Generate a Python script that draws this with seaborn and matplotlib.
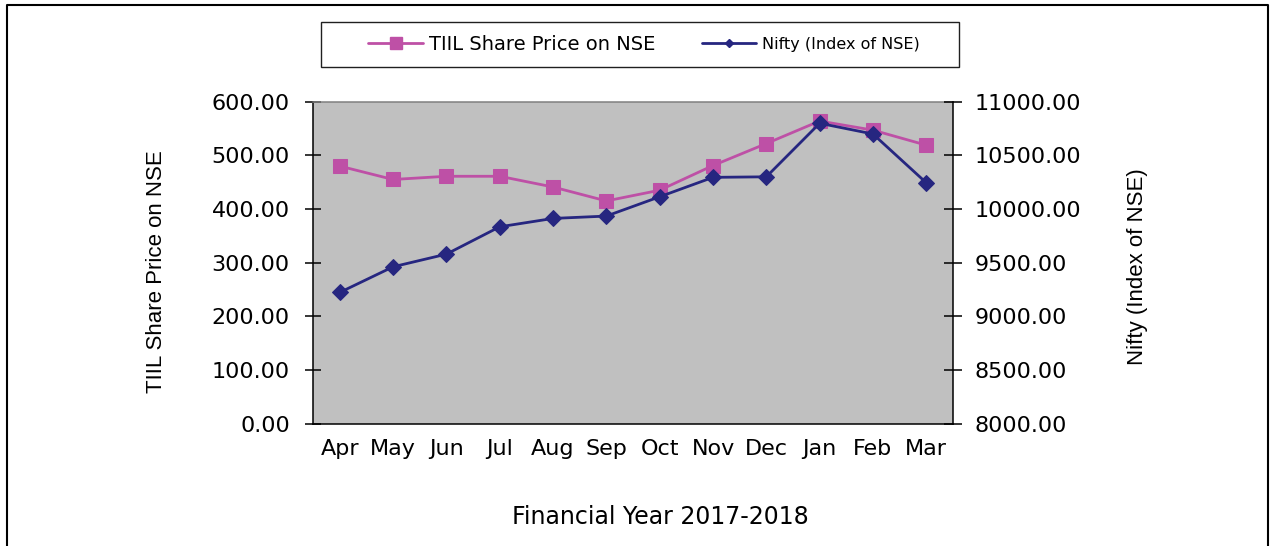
import matplotlib
matplotlib.use("Agg")
import matplotlib.pyplot as plt
from matplotlib.lines import Line2D
from matplotlib.patches import Rectangle
import seaborn as sns
import pandas as pd
import numpy as np

# values
months = ['Apr', 'May', 'Jun', 'Jul', 'Aug', 'Sep', 'Oct', 'Nov', 'Dec', 'Jan', 'Feb', 'Mar']
tiil_price = [480, 455, 461, 461, 441, 415, 435, 481, 522, 564, 547, 519]
nifty_index = [9222, 9461, 9579, 9834, 9912, 9934, 10114, 10295, 10300, 10799, 10699, 10244]
left_ticks = [0, 100, 200, 300, 400, 500, 600]
right_ticks = [8000, 8500, 9000, 9500, 10000, 10500, 11000]

df = pd.DataFrame({'month': months, 'tiil': tiil_price, 'nifty': nifty_index})

sns.set_theme(style='white')
plt.rcParams['font.family'] = ['DejaVu Sans']
plt.rcParams['text.color'] = 'black'
plt.rcParams['axes.labelcolor'] = 'black'
plt.rcParams['xtick.color'] = 'black'
plt.rcParams['ytick.color'] = 'black'

pink = '#BE50A6'
navy = '#262680'

fig = plt.figure(figsize=(12.72, 5.46), dpi=100)
ax = fig.add_axes([0.2461, 0.2243, 0.5031, 0.5894])
ax.set_facecolor('#C0C0C0')
ax2 = ax.twinx()

sns.lineplot(data=df, x='month', y='tiil', ax=ax, sort=False, color=pink,
             marker='s', markersize=10, markeredgecolor=pink, linewidth=2,
             label='TIIL Share Price on NSE')
sns.lineplot(data=df, x='month', y='nifty', ax=ax2, sort=False, color=navy,
             marker='D', markersize=8, markeredgecolor=navy, linewidth=2,
             label='Nifty (Index of NSE)')

for a in (ax, ax2):
    if a.get_legend() is not None:
        a.get_legend().remove()
    a.set_xlabel('')
    a.set_ylabel('')

ax.set_xlim(-0.5, 11.5)
ax.set_ylim(0, 600)
ax2.set_ylim(8000, 11000)

ax.set_xticks(range(len(months)))
ax.set_xticklabels(months)
ax.set_xticks(np.arange(-0.5, len(months), 1), minor=True)
ax.tick_params(axis='x', which='major', length=0, pad=11, labelsize=16, labelcolor='black')
ax.tick_params(axis='x', which='minor', direction='inout', length=10, width=1.1, color='black')

ax.set_yticks(left_ticks)
ax.set_yticklabels([f'{v:.2f}' for v in left_ticks])
ax.tick_params(axis='y', direction='inout', length=11.5, width=1.1, pad=11, labelsize=16,
               color='black', labelcolor='black', left=True)
ax2.set_yticks(right_ticks)
ax2.set_yticklabels([f'{v:.2f}' for v in right_ticks])
ax2.tick_params(axis='y', direction='inout', length=13, width=1.1, pad=9, labelsize=16,
                color='black', labelcolor='black', right=True)

for name, sp in ax.spines.items():
    sp.set_visible(name != 'right')
    sp.set_linewidth(1.1)
    sp.set_color('black')
ax.spines['top'].set_color('#808080')
for name, sp in ax2.spines.items():
    sp.set_visible(name == 'right')
    sp.set_linewidth(1.1)
    sp.set_color('black')

# axis titles
fig.text(157 / 1272, 1 - 272 / 546, 'TIIL Share Price on NSE', rotation=90,
         ha='center', va='center', fontsize=16, family=['Liberation Sans', 'DejaVu Sans'])
fig.text(1137 / 1272, 1 - 267 / 546, 'Nifty (Index of NSE)', rotation=90,
         ha='center', va='center', fontsize=16, family=['Liberation Sans', 'DejaVu Sans'])
fig.text(660 / 1272, 1 - 517 / 546, 'Financial Year 2017-2018',
         ha='center', va='center', fontsize=17)

# legend with its own frame
leg = fig.legend(handles=[Line2D([], [], color=pink, marker='s', markersize=8, lw=2),
                          Line2D([], [], color=navy, marker='D', markersize=4, lw=2)],
                 labels=['TIIL Share Price on NSE', 'Nifty (Index of NSE)'],
                 ncol=2, frameon=False, loc='center', bbox_to_anchor=(644 / 1272, 1 - 44 / 546),
                 fontsize=14, handlelength=2.8, handletextpad=0.3, columnspacing=2.4)
leg.get_texts()[1].set_fontsize(11.5)
fig.patches.append(Rectangle((321 / 1272, 1 - 67 / 546), 638 / 1272, 45 / 546,
                             transform=fig.transFigure, fill=False, edgecolor='#202020', lw=1))

# outer chart border (left, top, right)
fig.lines.append(Line2D([7 / 1272, 7 / 1272, 1268 / 1272, 1268 / 1272],
                        [0, 1 - 5 / 546, 1 - 5 / 546, 0],
                        transform=fig.transFigure, color='black', lw=1.5))

fig.savefig('out.png', dpi=100)
